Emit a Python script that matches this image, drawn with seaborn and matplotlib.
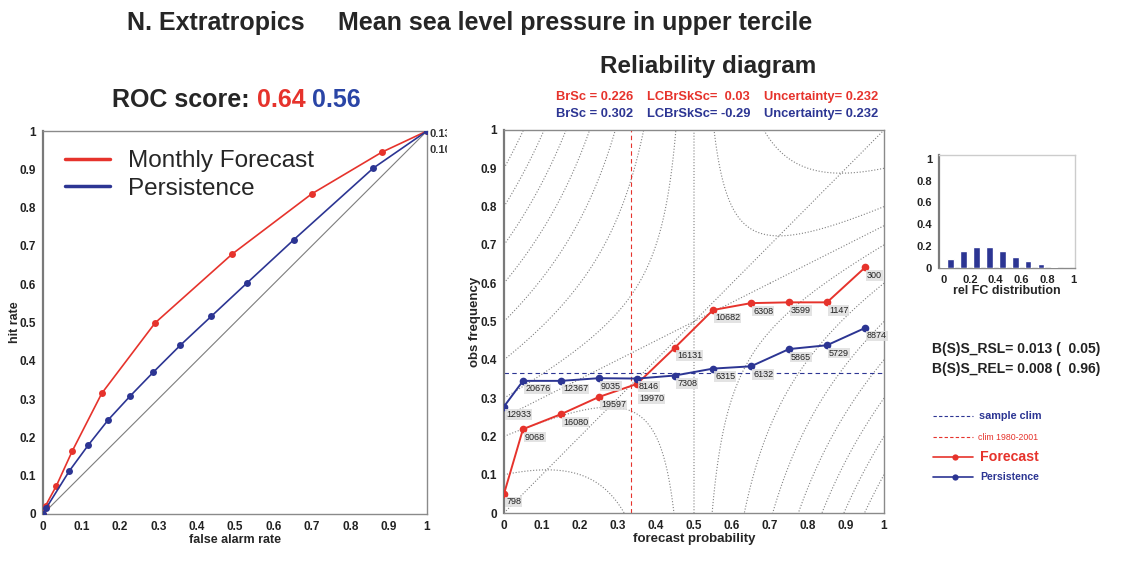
import numpy as np
import matplotlib
matplotlib.use("Agg")
import matplotlib.pyplot as plt
import seaborn as sns
from matplotlib.lines import Line2D
from matplotlib.transforms import Bbox

# ---------------- data ----------------
roc_fc_far = [0.0, 0.007, 0.035, 0.0765, 0.153, 0.292, 0.493, 0.700, 0.883, 1.0]
roc_fc_hit = [0.0, 0.022, 0.074, 0.165, 0.315, 0.499, 0.679, 0.836, 0.945, 1.0]
roc_ps_far = [0.0, 0.008, 0.069, 0.118, 0.170, 0.227, 0.287, 0.357, 0.438, 0.530, 0.653, 0.860, 1.0]
roc_ps_hit = [0.0, 0.015, 0.113, 0.180, 0.246, 0.308, 0.370, 0.440, 0.516, 0.602, 0.716, 0.903, 1.0]
roc_scores = ["0.64", "0.56"]
roc_end_labels = ["0.136", "0.109"]

prob_bins = [0.0, 0.05, 0.15, 0.25, 0.35, 0.45, 0.55, 0.65, 0.75, 0.85, 0.95]
rel_fc_obs = [0.050, 0.219, 0.258, 0.303, 0.337, 0.432, 0.530, 0.548, 0.550, 0.550, 0.641]
rel_ps_obs = [0.278, 0.345, 0.345, 0.352, 0.351, 0.359, 0.377, 0.383, 0.428, 0.438, 0.483]
fc_counts = ["798", "9068", "16080", "19597", "19970", "16131", "10682", "6308", "3599", "1147", "300"]
ps_counts = ["12933", "20676", "12367", "9035", "8146", "7308", "6315", "6132", "5865", "5729", "8874"]
hist_freq = [0.008, 0.087, 0.155, 0.189, 0.193, 0.156, 0.103, 0.061, 0.035, 0.011, 0.003]
sample_clim = 0.365
clim_ref = 1.0 / 3.0

fc_stats = ["BrSc = 0.226", "LCBrSkSc=  0.03", "Uncertainty= 0.232"]
ps_stats = ["BrSc = 0.302", "LCBrSkSc= -0.29", "Uncertainty= 0.232"]
bss_lines = ["B(S)S_RSL= 0.013 (  0.05)", "B(S)S_REL= 0.008 (  0.96)"]

tick_vals = [0, 0.1, 0.2, 0.3, 0.4, 0.5, 0.6, 0.7, 0.8, 0.9, 1.0]
tick_labels = ["0", "0.1", "0.2", "0.3", "0.4", "0.5", "0.6", "0.7", "0.8", "0.9", "1"]
hist_ticks = [0, 0.2, 0.4, 0.6, 0.8, 1.0]
hist_tick_labels = ["0", "0.2", "0.4", "0.6", "0.8", "1"]

# ---------------- style ----------------
sns.set_style("white")
plt.rcParams["font.family"] = ["Liberation Sans", "DejaVu Sans"]

RED = "#e6332c"
BLUE = "#2c3593"
BLUE2 = "#2a45a6"
GRAY = "#8a8a8a"

W, H = 1127, 574
def fx(x):
    return x / W
def fy(y):
    return 1 - y / H

fig = plt.figure(figsize=(W / 100, H / 100), dpi=100)
fig.patch.set_facecolor("white")

def style_axes(ax, size=8.5):
    for s in ax.spines.values():
        s.set_color(GRAY)
        s.set_linewidth(1.0)
    ax.spines["left"].set_linewidth(1.6)
    ax.spines["left"].set_color("#7a7a7a")
    ax.tick_params(axis="both", length=3, width=0.8, color=GRAY, pad=2,
                   labelsize=size, labelcolor="#222222")
    for lab in ax.get_xticklabels() + ax.get_yticklabels():
        lab.set_fontweight("bold")

# ---------------- ROC ----------------
ax1 = fig.add_axes([fx(43), fy(514), 384 / W, 383 / H])
ax1.axline((0, 0), slope=1, color="#7d7d7d", lw=0.8, zorder=1)
sns.lineplot(x=roc_fc_far, y=roc_fc_hit, ax=ax1, color=RED, marker="o", markersize=5,
             markeredgewidth=0, linewidth=1.2, sort=False, estimator=None, zorder=3)
sns.lineplot(x=roc_ps_far, y=roc_ps_hit, ax=ax1, color=BLUE, marker="o", markersize=5,
             markeredgewidth=0, linewidth=1.2, sort=False, estimator=None, zorder=3)
ax1.set_xlim(0, 1)
ax1.set_ylim(0, 1)
ax1.set_xticks(tick_vals)
ax1.set_xticklabels(tick_labels)
ax1.set_yticks(tick_vals)
ax1.set_yticklabels(tick_labels)
ax1.set_xlabel("false alarm rate", fontsize=9, fontweight="bold", labelpad=1)
ax1.set_ylabel("hit rate", fontsize=9, fontweight="bold", labelpad=-1)
style_axes(ax1)
ax1.legend(handles=[Line2D([], [], color=RED, lw=2.5), Line2D([], [], color=BLUE, lw=2.5)],
           labels=["Monthly Forecast", "Persistence"], loc="upper left",
           bbox_to_anchor=(0.0573, 0.950), borderaxespad=0, borderpad=0, frameon=False,
           fontsize=17.5, handlelength=1.85, handletextpad=0.74, labelspacing=0.22)
clip = Bbox.from_extents(0, 0, 447, H)
for i, lab in enumerate(roc_end_labels):
    t = ax1.annotate(lab, (roc_fc_far[-1], roc_fc_hit[-1]), xytext=(1.5, -2.2 - 11.5 * i),
                     textcoords="offset points", ha="left", va="center", fontsize=8,
                     fontweight="bold", color="#333333", annotation_clip=False)
    t.set_clip_on(True)
    t.set_clip_box(clip)

# ---------------- Reliability ----------------
ax2 = fig.add_axes([fx(504), fy(513), 380 / W, 383 / H])
pg = np.linspace(0, 1, 501)
P, O = np.meshgrid(pg, pg)
F = (P - 0.5) * (P + 0.5 - 2 * O)
levels = sorted(set(np.round(np.arange(-0.65, 0.76, 0.1), 2).tolist() + [0.0]))
ax2.contour(P, O, F, levels=levels, colors="#808080", linewidths=0.8,
            linestyles=":", zorder=1)
ax2.axline((0, 0), slope=1, color="#808080", lw=0.8, ls=":", zorder=1)
ax2.axhline(sample_clim, color=BLUE, lw=0.8, ls=(0, (4, 3)), zorder=2)
ax2.axvline(clim_ref, color=RED, lw=0.8, ls=(0, (4, 3)), zorder=2)
sns.lineplot(x=prob_bins, y=rel_fc_obs, ax=ax2, color=RED, marker="o", markersize=5.5,
             markeredgewidth=0, linewidth=1.4, sort=False, estimator=None, zorder=4)
sns.lineplot(x=prob_bins, y=rel_ps_obs, ax=ax2, color=BLUE, marker="o", markersize=5.5,
             markeredgewidth=0, linewidth=1.4, sort=False, estimator=None, zorder=4)
for xs, ys, cs, other in [(prob_bins, rel_fc_obs, fc_counts, rel_ps_obs),
                          (prob_bins, rel_ps_obs, ps_counts, rel_fc_obs)]:
    for xv, yv, c, ov in zip(xs, ys, cs, other):
        # push a label a little lower when it would collide with the other series' label
        dy = -2.5
        if abs(yv - ov) < 0.03 and yv < ov:
            dy = -7.5
        ax2.annotate(c, (xv, yv), xytext=(1.5, dy), textcoords="offset points",
                     ha="left", va="top", fontsize=6.5, color="#222222", zorder=5,
                     bbox=dict(boxstyle="square,pad=0.08", fc="#dedede", ec="none", alpha=0.85))
ax2.set_xlim(0, 1)
ax2.set_ylim(0, 1)
ax2.set_xticks(tick_vals)
ax2.set_xticklabels(tick_labels)
ax2.set_yticks(tick_vals)
ax2.set_yticklabels(tick_labels)
ax2.set_xlabel("forecast probability", fontsize=9.5, fontweight="bold", labelpad=1)
ax2.set_ylabel("obs frequency", fontsize=9.5, fontweight="bold", labelpad=0)
style_axes(ax2)

# ---------------- histogram inset ----------------
ax3 = fig.add_axes([fx(939), fy(268), 136 / W, 113 / H])
ax3.bar(prob_bins, hist_freq, width=0.052, color=BLUE, zorder=3)
ax3.set_xlim(-0.039, 1.013)
ax3.set_ylim(0, 1.035)
ax3.set_xticks(hist_ticks)
ax3.set_xticklabels(hist_tick_labels)
ax3.set_yticks(hist_ticks)
ax3.set_yticklabels(hist_tick_labels)
ax3.set_xlabel("rel FC distribution", fontsize=9, fontweight="bold", labelpad=0)
style_axes(ax3, size=8)
for s in ["top", "right"]:
    ax3.spines[s].set_color("#cccccc")

# ---------------- texts ----------------
fig.text(fx(127), fy(23), "N. Extratropics", fontsize=18, fontweight="bold", va="center")
fig.text(fx(338), fy(23), "Mean sea level pressure in upper tercile", fontsize=18,
         fontweight="bold", va="center")
fig.text(fx(708), fy(67), "Reliability diagram", fontsize=17.5, fontweight="bold",
         va="center", ha="center")
t0 = fig.text(fx(112), fy(100), "ROC score: ", fontsize=18, fontweight="bold", va="center")
fig.canvas.draw()
bb = t0.get_window_extent()
t1 = fig.text(bb.x1 / W, fy(100), roc_scores[0] + " ", fontsize=18, fontweight="bold",
              va="center", color=RED)
fig.canvas.draw()
bb1 = t1.get_window_extent()
fig.text(bb1.x1 / W, fy(100), roc_scores[1], fontsize=18, fontweight="bold",
         va="center", color=BLUE2)

col_x = [556, 647, 764]
for xs, s in zip(col_x, fc_stats):
    fig.text(fx(xs), fy(97), s, fontsize=9.3, fontweight="bold", color=RED, va="center")
for xs, s in zip(col_x, ps_stats):
    fig.text(fx(xs), fy(114), s, fontsize=9.3, fontweight="bold", color=BLUE, va="center")

fig.text(fx(932), fy(349), bss_lines[0], fontsize=10, fontweight="bold", va="center",
         color="#222222")
fig.text(fx(932), fy(369), bss_lines[1], fontsize=10, fontweight="bold", va="center",
         color="#222222")

# ---------------- reliability legend ----------------
axl = fig.add_axes([fx(925), fy(495), 140 / W, 90 / H])
axl.set_xlim(925, 1065)
axl.set_ylim(495, 405)
axl.axis("off")
axl.plot([933, 973], [416, 416], color=BLUE, lw=0.8, ls=(0, (3, 2)))
axl.text(979, 416, "sample clim", color=BLUE, fontsize=7.8, fontweight="bold", va="center")
axl.plot([933, 973], [437, 437], color=RED, lw=0.8, ls=(0, (3, 2)))
axl.text(978, 437, "clim 1980-2001", color=RED, fontsize=6.3, va="center")
axl.plot([933, 973], [457, 457], color=RED, lw=1.2)
axl.plot([955], [457], "o", color=RED, ms=4.5, mew=0)
axl.text(980, 457, "Forecast", color=RED, fontsize=10.2, fontweight="bold", va="center")
axl.plot([933, 973], [477, 477], color=BLUE, lw=1.2)
axl.plot([955], [477], "o", color=BLUE, ms=4.5, mew=0)
axl.text(980, 477, "Persistence", color=BLUE, fontsize=7.6, fontweight="bold", va="center")

fig.savefig("out.png", dpi=100)
